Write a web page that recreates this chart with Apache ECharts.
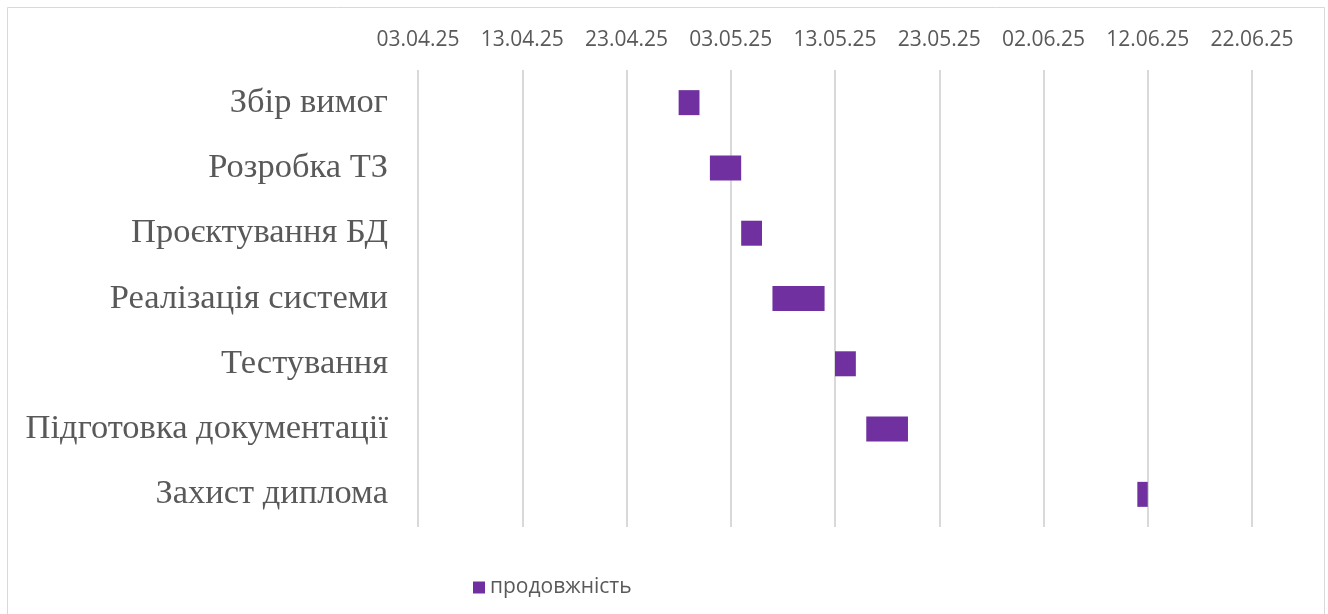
<!DOCTYPE html>
<html>
<head>
<meta charset="utf-8">
<script src="https://cdn.jsdelivr.net/npm/echarts@6/dist/echarts.min.js"></script>
<style>
html,body{margin:0;padding:0;background:#fff;}
#chart{width:1328px;height:614px;}
</style>
</head>
<body>
<div id="chart"></div>
<script>
// Data
const tasks = ["Збір вимог", "Розробка ТЗ", "Проєктування БД", "Реалізація системи", "Тестування", "Підготовка документації", "Захист диплома"];
const startDates = ["28.04.25", "01.05.25", "04.05.25", "07.05.25", "13.05.25", "16.05.25", "11.06.25"];
const durations = [2, 3, 2, 5, 2, 4, 1];
const axisMinDate = "03.04.25";
const axisMaxDate = "22.06.25";
const seriesName = "продовжність";

// Convert dd.mm.yy to Excel serial day number
function toSerial(s) {
  const [d, m, y] = s.split(".").map(Number);
  const ms = Date.UTC(2000 + y, m - 1, d) - Date.UTC(1899, 11, 30);
  return Math.round(ms / 86400000);
}
function fromSerial(n) {
  const dt = new Date(Date.UTC(1899, 11, 30) + n * 86400000);
  const dd = String(dt.getUTCDate()).padStart(2, "0");
  const mm = String(dt.getUTCMonth() + 1).padStart(2, "0");
  const yy = String(dt.getUTCFullYear() % 100).padStart(2, "0");
  return dd + "." + mm + "." + yy;
}
const starts = startDates.map(toSerial);
const minV = toSerial(axisMinDate);
const maxV = toSerial(axisMaxDate);

const chart = echarts.init(document.getElementById("chart"), null, {renderer: "canvas"});
chart.setOption({
  animation: false,
  backgroundColor: "#ffffff",
  graphic: [{
    type: "rect",
    shape: {x: 7.5, y: 7.5, width: 1317, height: 640},
    style: {fill: "none", stroke: "#d9d9d9", lineWidth: 1},
    silent: true
  }],
  grid: {left: 418, right: 76, top: 70, bottom: 87, containLabel: false},
  legend: {
    data: [seriesName],
    bottom: 11,
    left: 468,
    itemWidth: 12,
    itemHeight: 12,
    itemGap: 10,
    icon: "rect",
    textStyle: {color: "#595959", fontSize: 21, fontFamily: "Open Sans"}
  },
  xAxis: {
    type: "value",
    position: "top",
    min: minV,
    max: maxV,
    interval: 10,
    axisLine: {show: false},
    axisTick: {show: false},
    splitLine: {show: true, lineStyle: {color: "#d9d9d9", width: 2}},
    axisLabel: {
      color: "#595959",
      fontSize: 21,
      fontFamily: "Open Sans",
      margin: 19,
      formatter: v => fromSerial(v)
    }
  },
  yAxis: {
    type: "category",
    data: tasks,
    inverse: true,
    axisLine: {show: false},
    axisTick: {show: false},
    splitLine: {show: false},
    axisLabel: {
      color: "#595959",
      fontSize: 34.5,
      fontFamily: "Liberation Serif",
      margin: 30,
      padding: [4, 0, 0, 0]
    }
  },
  series: [
    {
      name: "start",
      type: "bar",
      stack: "g",
      data: starts,
      itemStyle: {color: "transparent"},
      barWidth: 25,
      silent: true
    },
    {
      name: seriesName,
      type: "bar",
      stack: "g",
      data: durations,
      barWidth: 25,
      itemStyle: {color: "#7030A0"}
    }
  ]
});
</script>
</body>
</html>
